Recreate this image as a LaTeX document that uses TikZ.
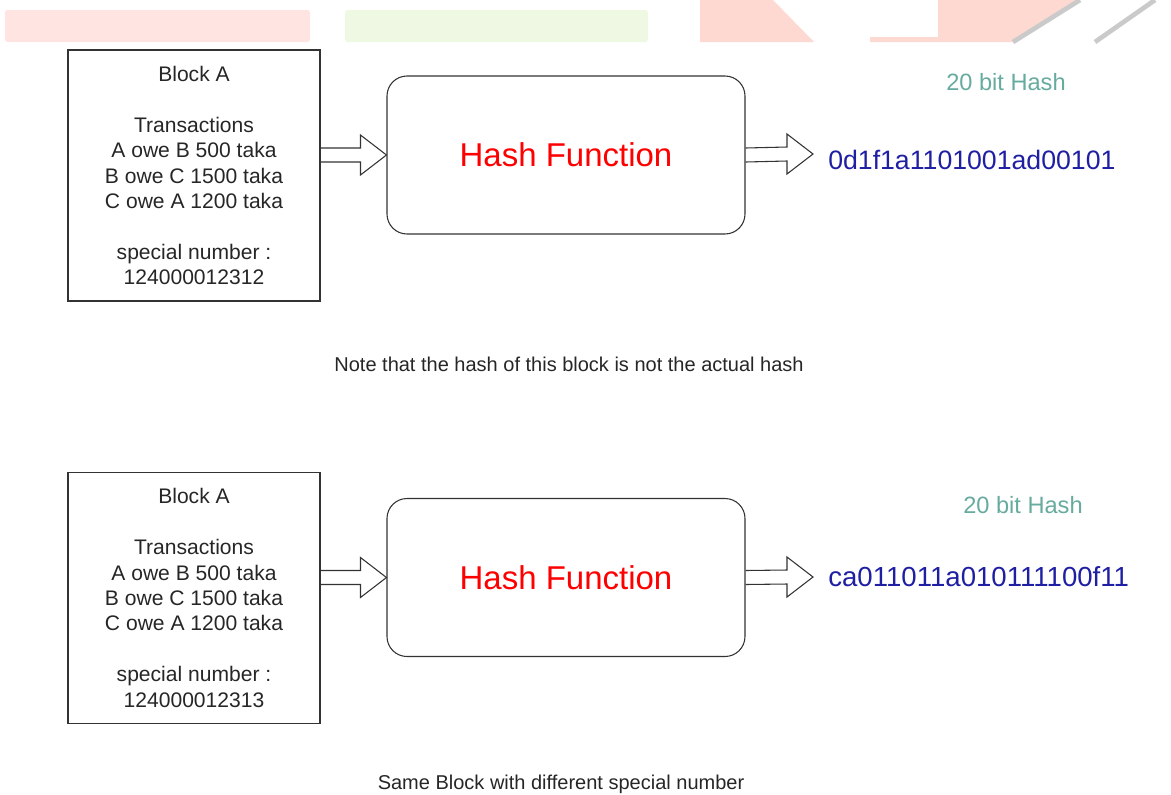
\documentclass[tikz,border=0pt]{standalone}
\usepackage{fontspec}
\setmainfont{Liberation Sans}
\usetikzlibrary{calc}

\definecolor{hashred}{HTML}{FF0000}
\definecolor{hashblue}{HTML}{1F1FA3}
\definecolor{bitteal}{HTML}{67AB9F}
\definecolor{edgegray}{HTML}{333333}
\definecolor{bandpink}{HTML}{FFE4E1}
\definecolor{bandgreen}{HTML}{EEF8E2}
\definecolor{bandsalmon}{HTML}{FDD9D1}
\definecolor{bandgray}{HTML}{CACACA}

% hollow block arrow: start point, tip point
\newcommand{\fatarrow}[2]{%
  \draw[fatline] ($(#1)+(0,-7)$) -- ($(#2)+(-26,-7)$) -- ($(#2)+(-26,-20)$) -- (#2)
    -- ($(#2)+(-26,20)$) -- ($(#2)+(-26,7)$) -- ($(#1)+(0,7)$);}

\begin{document}
\begin{tikzpicture}[x=0.75pt, y=-0.75pt,
    blockbox/.style={draw=edgegray, line width=0.8pt, minimum width=189pt, minimum height=188.25pt,
      align=center, inner sep=0pt, font=\fontsize{15.8}{19.05}\selectfont, text=black!85},
    hashbox/.style={draw=edgegray, line width=0.8pt, rounded corners=15pt, minimum width=268.5pt,
      minimum height=118.5pt, text=hashred, font=\fontsize{24.75}{30}\selectfont},
    hashcode/.style={anchor=west, inner sep=0pt, text=hashblue, font=\fontsize{20}{24}\selectfont},
    bitlabel/.style={text=bitteal, inner sep=0pt, font=\fontsize{17.7}{22}\selectfont},
    note/.style={inner sep=0pt, text=black!85, font=\fontsize{15}{18}\selectfont},
    fatline/.style={draw=edgegray, line width=0.8pt, line join=miter}]

    \useasboundingbox (0,0) rectangle (1171,794);

    % cut-off band at the top
    \begin{scope}
    \fill[bandpink, rounded corners=2pt] (5,10) rectangle (310,42);
    \fill[bandgreen, rounded corners=2pt] (345,10) rectangle (648,42);
    \fill[bandsalmon] (700,0) -- (773,0) -- (814,42) -- (700,42) -- cycle;
    \fill[bandsalmon] (938,0) -- (1080,0) -- (1013,42) -- (870,42) -- (870,37) -- (938,37) -- cycle;
    \draw[bandgray, line width=3.5pt] (1080,0) -- (1013,42);
    \draw[bandgray, line width=3.5pt] (1155,0) -- (1095,42);
    \end{scope}

    % first block
    \node[blockbox] (blockA) at (194,175.5) {Block A\\[19.05pt]Transactions\\A owe B 500 taka\\B owe C 1500 taka\\C owe A 1200 taka\\[19.05pt]special number :\\124000012312};
    \node[hashbox] (hashA) at (566,155) {Hash Function};
    \node[hashcode] (codeA) at (828,160) {0d1f1a1101001ad00101};
    \node[bitlabel] (bitA) at (1006,82) {20 bit Hash};
    \coordinate (tipA) at (813,154);
    \fatarrow{blockA.east |- hashA.west}{hashA.west}
    \fatarrow{hashA.east}{tipA}
    \node[note] (noteA) at (569,364) {Note that the hash of this block is not the actual hash};

    % second block
    \node[blockbox] (blockB) at (194,598) {Block A\\[19.05pt]Transactions\\A owe B 500 taka\\B owe C 1500 taka\\C owe A 1200 taka\\[19.05pt]special number :\\124000012313};
    \node[hashbox] (hashB) at (566,577.5) {Hash Function};
    \node[hashcode, font=\fontsize{20.7}{24}\selectfont] (codeB) at (828,577) {ca011011a010111100f11};
    \node[bitlabel] (bitB) at (1023,505) {20 bit Hash};
    \coordinate (tipB) at (813,577);
    \fatarrow{blockB.east |- hashB.west}{hashB.west}
    \fatarrow{hashB.east}{tipB}
    \node[note] (noteB) at (561,784) {Same Block with different special number};

\end{tikzpicture}
\end{document}
